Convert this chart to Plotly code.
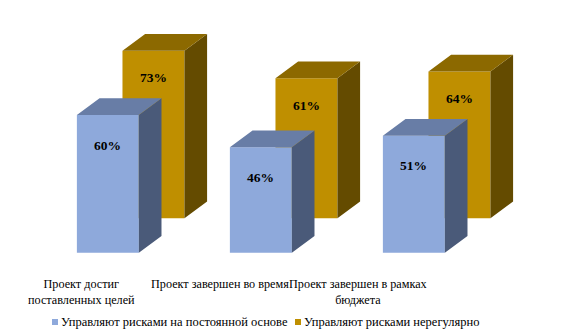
import plotly.graph_objects as go

categories = ["Проект достиг<br>поставленных целей",
              "Проект завершен во время",
              "Проект завершен в рамках<br>бюджета"]
series_names = ["Управляют рисками на постоянной основе",
                "Управляют рисками нерегулярно"]
regular = [60, 46, 51]
irregular = [73, 61, 64]

FONT = "Liberation Serif"

# 3D geometry (axis units)
BW = 0.405      # bar width (category units)
DX = 0.148      # depth x
DY = 7.28       # depth y (value units)
GOLD_XOFF = 0.298
GOLD_BASE = 15.0

styles = {
    "blue": dict(front="#8EA9DB", top="#687DA6", side="#4A5A79"),
    "gold": dict(front="#BF8F00", top="#8C6900", side="#644B00"),
}

fig = go.Figure()
xs = list(range(len(categories)))


def faces(xc, base, vals):
    tx, ty, sx, sy = [], [], [], []
    for x, v in zip(xc, vals):
        xl, xr = x - BW / 2, x + BW / 2
        t = base + v
        tx += [xl, xr, xr + DX, xl + DX, xl, None]
        ty += [t, t, t + DY, t + DY, t, None]
        sx += [xr, xr, xr + DX, xr + DX, xr, None]
        sy += [base, t, t + DY, base + DY, base, None]
    return tx, ty, sx, sy


def add_series(name, vals, xc, base, st, label_shift):
    fig.add_trace(go.Bar(x=xc, y=vals, base=[base] * len(vals), width=BW,
                         marker=dict(color=st["front"], line=dict(width=0)),
                         name=name, showlegend=False, hoverinfo="skip"))
    tx, ty, sx, sy = faces(xc, base, vals)
    fig.add_trace(go.Scatter(x=sx, y=sy, fill="toself", mode="none",
                             fillcolor=st["side"], showlegend=False, hoverinfo="skip"))
    fig.add_trace(go.Scatter(x=tx, y=ty, fill="toself", mode="none",
                             fillcolor=st["top"], showlegend=False, hoverinfo="skip"))
    for x, v in zip(xc, vals):
        fig.add_annotation(x=x, y=base + v, text=f"<b>{v}%</b>", showarrow=False,
                           yshift=-label_shift, xanchor="center", yanchor="middle",
                           font=dict(family=FONT, size=13.5, color="black"))


add_series(series_names[1], irregular, [x + GOLD_XOFF for x in xs], GOLD_BASE,
           styles["gold"], 27)
add_series(series_names[0], regular, xs, 0.0, styles["blue"], 30)

# category labels along the floor
label_x = [81.7 / 576, 220 / 576, 358 / 576]
for cx, c in zip(label_x, categories):
    fig.add_annotation(xref="paper", yref="paper", x=cx, y=1 - 275 / 336, text=c,
                       showarrow=False, xanchor="center", yanchor="top", align="center",
                       font=dict(family=FONT, size=12.2, color="black"))

# legend (squares + labels)
leg_sq_x = [52 / 576, 295 / 576]
leg_colors = [styles["blue"]["front"], styles["gold"]["front"]]
for sx0, col, name in zip(leg_sq_x, leg_colors, series_names):
    fig.add_shape(type="rect", xref="paper", yref="paper",
                  x0=sx0, x1=sx0 + 6 / 576, y0=1 - 325 / 336, y1=1 - 319 / 336,
                  fillcolor=col, line=dict(width=0))
    fig.add_annotation(xref="paper", yref="paper", x=sx0 + 7 / 576, y=1 - 321.5 / 336,
                       text=name, showarrow=False, xanchor="left", yanchor="middle",
                       font=dict(family=FONT, size=12.5, color="black"))

fig.update_layout(
    width=576, height=336,
    margin=dict(l=0, r=0, t=0, b=0),
    paper_bgcolor="white", plot_bgcolor="white",
    barmode="overlay",
    xaxis=dict(range=[-0.705, -0.705 + 576 / 153], visible=False, fixedrange=True),
    yaxis=dict(range=[-(336 - 252.7) / 2.295, 252.7 / 2.295], visible=False, fixedrange=True),
    showlegend=False,
)

fig.write_html("out.html", config={"displayModeBar": False},
               post_script="document.body.style.margin='0';")
